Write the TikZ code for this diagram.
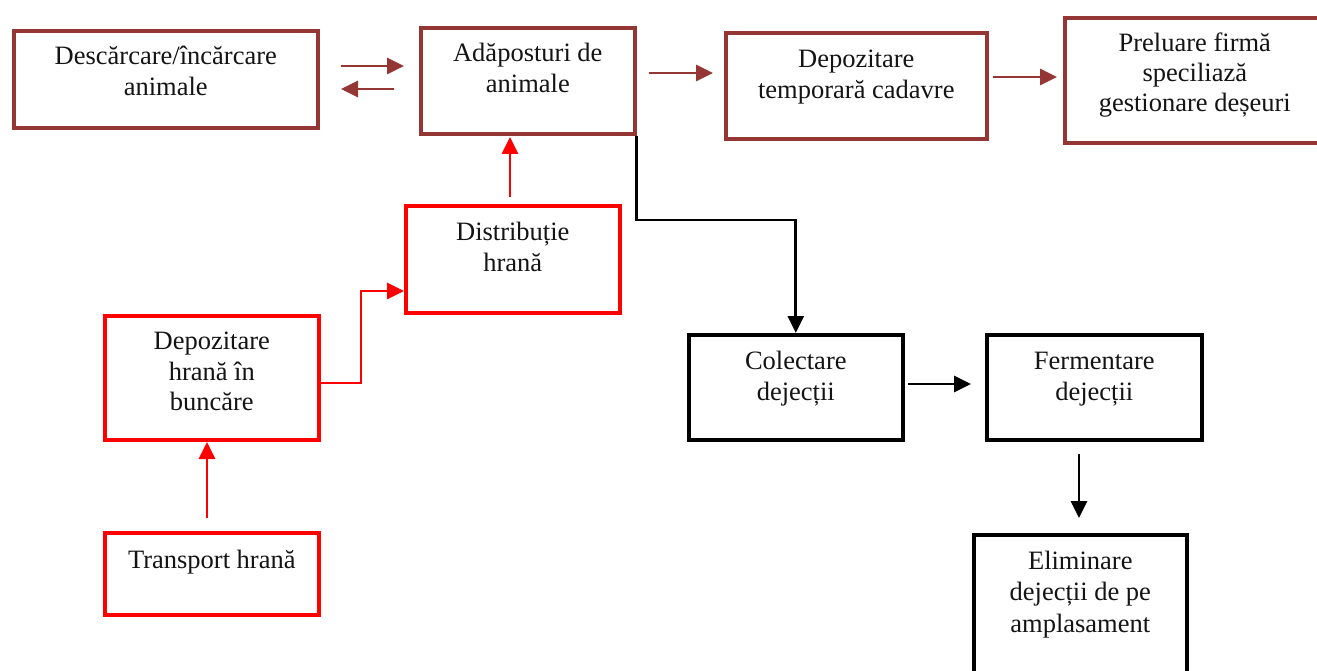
\documentclass[tikz,border=0pt]{standalone}
\usepackage{fontspec}
\setmainfont{Liberation Serif}
\usetikzlibrary{arrows.meta,calc}
\definecolor{brn}{HTML}{943634}
\begin{document}
\begin{tikzpicture}[x=1pt,y=-1pt,
  box/.style={draw, line width=3.6pt, anchor=north west, inner sep=0pt},
  bbox/.style={box, draw=brn},
  rbox/.style={box, draw=red},
  kbox/.style={box, draw=black},
  txt/.style={anchor=north, align=center, inner sep=0pt, text=black!92,
    font=\fontsize{26.5}{31.5}\selectfont},
  conn/.style={line width=2.8pt, -{Triangle[length=17pt,width=16pt]}},
  bconn/.style={conn, draw=brn},
  rconn/.style={conn, draw=red},
  kconn/.style={conn, draw=black}]
\useasboundingbox (0,0) rectangle (1317,671);
\clip (0,0) rectangle (1317,671);
\fill[white] (0,0) rectangle (1317,671);

% boxes
\node[bbox, minimum width=304pt, minimum height=97pt] (b1) at (12,29) {};
\node[bbox, minimum width=214pt, minimum height=106pt] (b2) at (419,26) {};
\node[bbox, minimum width=261pt, minimum height=106pt] (b3) at (724,31) {};
\node[bbox, minimum width=260pt, minimum height=125pt] (b4) at (1063,16) {};
\node[rbox, minimum width=214pt, minimum height=107pt] (b5) at (404,204) {};
\node[rbox, minimum width=214pt, minimum height=124pt] (b6) at (103,314) {};
\node[rbox, minimum width=214pt, minimum height=82pt] (b7) at (103,531) {};
\node[kbox, minimum width=214pt, minimum height=105pt] (b8) at (687,333) {};
\node[kbox, minimum width=215pt, minimum height=105pt] (b9) at (985,333) {};
\node[kbox, minimum width=213pt, minimum height=167pt] (b10) at (972,533) {};

% texts
\node[txt] (t1) at ($(b1.north)+(0,13)$) {\strut Descărcare/încărcare\\animale};
\node[txt] (t2) at ($(b2.north)+(0,13)$) {\strut Adăposturi de\\animale};
\node[txt] (t3) at ($(b3.north)+(0,14)$) {\strut Depozitare\\temporară cadavre};
\node[txt, font=\fontsize{26.5}{30}\selectfont] (t4) at ($(b4.north)+(0,14)$) {\strut Preluare firmă\\speciliază\\gestionare deșeuri};
\node[txt] (t5) at ($(b5.north)+(0,14)$) {\strut Distribuție\\hrană};
\node[txt, font=\fontsize{26.5}{30.5}\selectfont] (t6) at ($(b6.north)+(0,14)$) {\strut Depozitare\\hrană în\\buncăre};
\node[txt] (t7) at ($(b7.north)+(0,15)$) {\strut Transport hrană};
\node[txt] (t8) at ($(b8.north)+(0,14)$) {\strut Colectare\\dejecții};
\node[txt] (t9) at ($(b9.north)+(0,14)$) {\strut Fermentare\\dejecții};
\node[txt] (t10) at ($(b10.north)+(0,14)$) {\strut Eliminare\\dejecții de pe\\amplasament};

% connector end points
\coordinate (p1) at (341,66);  \coordinate (q1) at (404,66);
\coordinate (p2) at (394,89);  \coordinate (q2) at (341,89);
\coordinate (p3) at (649,73);  \coordinate (q3) at (713,73);
\coordinate (p4) at (993,77);  \coordinate (q4) at (1057,77);
\coordinate (p5) at (510,197); \coordinate (q5) at (510,137);
\coordinate (p6) at (207,518); \coordinate (q6) at (207,442);
\coordinate (p7) at (908,384); \coordinate (q7) at (971,384);
\coordinate (p8) at (1079,454); \coordinate (q8) at (1079,518);

% connectors
\draw[bconn] (p1) -- (q1);
\draw[bconn] (p2) -- (q2);
\draw[bconn] (p3) -- (q3);
\draw[bconn] (p4) -- (q4);
\draw[rconn] (p5) -- (q5);
\draw[rconn] (p6) -- (q6);
\draw[rconn] (b6.east |- 0,383) -- (361,383) -- (361,291) -- (b5.west |- 0,291);
\draw[kconn] (b2.south east) -- (b2.south east |- 0,220) -| (b8.north);
\draw[kconn] (p7) -- (q7);
\draw[kconn] (p8) -- (q8);
\end{tikzpicture}
\end{document}
